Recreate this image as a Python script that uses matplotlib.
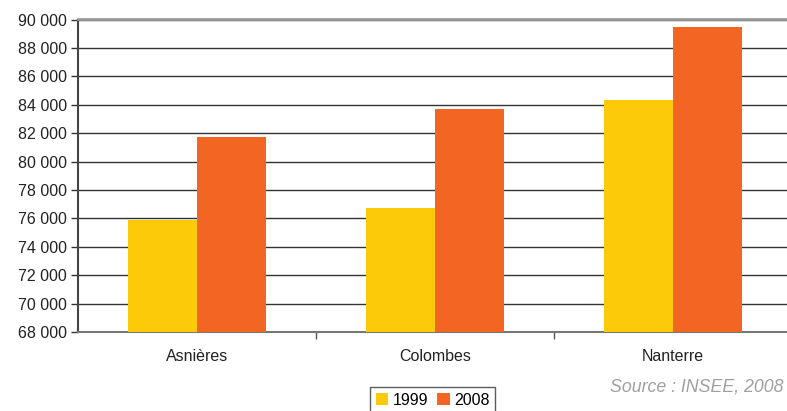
import matplotlib
matplotlib.use("Agg")
import matplotlib.pyplot as plt
import numpy as np
from matplotlib.ticker import FuncFormatter, FixedLocator

plt.rcParams['font.family'] = ['Liberation Sans', 'DejaVu Sans']

communes = ["Asnières", "Colombes", "Nanterre"]
years = ["1999", "2008"]
pop_1999 = [75900, 76700, 84300]
pop_2008 = [81700, 83700, 89500]
colors = ["#FCCA08", "#F26522"]

fig = plt.figure(figsize=(7.87, 4.11), dpi=100)
ax = fig.add_axes([78/787, 1-332/411, 714/787, (332-19.5)/411])

x = np.arange(len(communes))
w = 0.29
ymin = 68000
ax.bar(x - w/2, np.array(pop_1999) - ymin, w, bottom=ymin, color=colors[0], label=years[0], zorder=3)
ax.bar(x + w/2, np.array(pop_2008) - ymin, w, bottom=ymin, color=colors[1], label=years[1], zorder=3)

ax.set_xlim(-0.5, len(communes) - 0.5)
ax.set_ylim(68000, 90000)
ax.set_yticks(np.arange(68000, 90001, 2000))
ax.yaxis.set_major_formatter(FuncFormatter(lambda v, p: f"{int(v):,}".replace(",", " ")))
ax.grid(axis='y', color='#333333', linewidth=1.0, zorder=0)

ax.set_xticks(x)
ax.set_xticklabels(communes, fontsize=11.5, color='#222222')
ax.tick_params(axis='x', length=0, pad=12)
ax.xaxis.set_minor_locator(FixedLocator([0.5, 1.5]))
ax.tick_params(axis='x', which='minor', length=5, color='#555555', width=1)
ax.tick_params(axis='y', length=5, width=1, color='#333333', labelsize=11.5, labelcolor='#222222', pad=3)

ax.spines['right'].set_visible(False)
ax.spines['top'].set_color('#999999')
ax.spines['top'].set_linewidth(2)
ax.spines['left'].set_color('#444444')
ax.spines['left'].set_linewidth(1.5)
ax.spines['bottom'].set_color('#777777')
ax.spines['bottom'].set_linewidth(1.5)

leg = fig.legend(loc='upper left', bbox_to_anchor=(370/787, 1-387/411), ncol=2,
                 frameon=True, fancybox=False, fontsize=11.5, handlelength=0.8,
                 handleheight=0.8, handletextpad=0.25, columnspacing=0.6,
                 borderpad=0.35, borderaxespad=0)
leg.get_frame().set_edgecolor('#333333')
leg.get_frame().set_linewidth(1.0)

fig.text(783/787, 1-387/411, "Source : INSEE, 2008", ha='right', va='center',
         fontsize=12.8, style='italic', color='#A0A0A0')

fig.savefig("out.png", dpi=100)
